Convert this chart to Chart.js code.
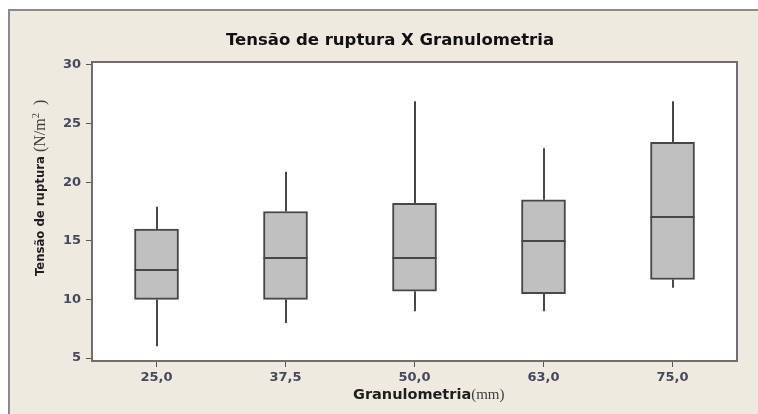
<!DOCTYPE html>
<html>
<head>
<meta charset="utf-8">
<title>Tensão de ruptura X Granulometria</title>
<script src="https://cdn.jsdelivr.net/npm/chart.js@4.4.1/dist/chart.umd.min.js"></script>
<style>
  html, body { margin: 0; padding: 0; background: #ffffff; }
  canvas { display: block; }
</style>
</head>
<body>
<canvas id="chart" width="758" height="414"></canvas>
<script>
// Granulometria classes (mm) on the x axis
const categories = ['25,0', '37,5', '50,0', '63,0', '75,0'];

// Five-number summaries of tensão de ruptura (N/m²) per class
const whiskerLow  = [6.0, 8.0, 9.0, 9.0, 11.0];
const quartile1   = [10.0, 10.0, 10.7, 10.5, 11.7];
const medians     = [12.5, 13.5, 13.5, 15.0, 17.0];
const quartile3   = [16.0, 17.5, 18.2, 18.5, 23.4];
const whiskerHigh = [17.9, 20.9, 26.9, 22.9, 26.9];

// Y axis tick values
const yTicks = [5, 10, 15, 20, 25, 30];

const LINE = '#474747';
const BOX_FILL = '#c0c0c0';
const TICK_TEXT = '#46485e';

// Panel background, plot frame and mixed-font titles
const framePlugin = {
  id: 'frame',
  beforeDraw(chart) {
    const ctx = chart.ctx;
    ctx.save();
    ctx.fillStyle = '#ffffff';
    ctx.fillRect(0, 0, chart.width, chart.height);
    ctx.fillStyle = '#eeeae0';
    ctx.fillRect(9, 10, chart.width - 9, chart.height - 10);
    ctx.strokeStyle = '#8a8a8a';
    ctx.lineWidth = 2;
    ctx.beginPath();
    ctx.moveTo(9, chart.height);
    ctx.lineTo(9, 10);
    ctx.lineTo(chart.width, 10);
    ctx.stroke();
    const a = chart.chartArea;
    ctx.fillStyle = '#ffffff';
    ctx.fillRect(a.left, a.top, a.right - a.left, a.bottom - a.top);
    ctx.restore();
  },
  afterDraw(chart) {
    const ctx = chart.ctx;
    const a = chart.chartArea;
    ctx.save();
    ctx.strokeStyle = '#6e6e6e';
    ctx.lineWidth = 2;
    ctx.strokeRect(a.left, a.top, a.right - a.left, a.bottom - a.top);

    // Main title
    ctx.fillStyle = '#111111';
    ctx.font = 'bold 16.5px "DejaVu Sans"';
    ctx.textAlign = 'center';
    ctx.textBaseline = 'middle';
    ctx.fillText('Tensão de ruptura X Granulometria', 390, 41);

    // X axis title: bold label followed by serif unit
    ctx.textAlign = 'left';
    ctx.font = 'bold 14.5px "DejaVu Sans"';
    const xt = 'Granulometria';
    let x0 = 353;
    ctx.fillStyle = '#1e1e1e';
    ctx.fillText(xt, x0, 395);
    x0 += ctx.measureText(xt).width;
    ctx.font = '15px "Liberation Serif"';
    ctx.fillStyle = '#404040';
    ctx.fillText('(mm)', x0, 395);

    // Y axis title, rotated
    ctx.translate(41, 276);
    ctx.rotate(-Math.PI / 2);
    ctx.font = 'bold 13px "DejaVu Sans Condensed"';
    ctx.fillStyle = '#1e1e1e';
    const yt = 'Tensão de ruptura';
    ctx.fillText(yt, 0, 0);
    let p = ctx.measureText(yt).width + 4;
    ctx.font = '16px "Liberation Serif"';
    ctx.fillStyle = '#404040';
    ctx.fillText('(N/m', p, 0);
    p += ctx.measureText('(N/m').width;
    ctx.font = '10.5px "Liberation Serif"';
    ctx.fillText('2', p, -5);
    p += ctx.measureText('2').width;
    ctx.font = '16px "Liberation Serif"';
    ctx.fillText('  )', p, 0);
    ctx.restore();
  }
};

// Whiskers behind the boxes, medians on top
const boxPlotPlugin = {
  id: 'boxplotParts',
  beforeDatasetsDraw(chart) {
    const ctx = chart.ctx;
    const xs = chart.scales.x, ys = chart.scales.y;
    ctx.save();
    ctx.strokeStyle = LINE;
    ctx.lineWidth = 2;
    categories.forEach((c, i) => {
      const x = Math.round(xs.getPixelForValue(i));
      ctx.beginPath();
      ctx.moveTo(x, ys.getPixelForValue(whiskerLow[i]));
      ctx.lineTo(x, ys.getPixelForValue(quartile1[i]));
      ctx.moveTo(x, ys.getPixelForValue(quartile3[i]));
      ctx.lineTo(x, ys.getPixelForValue(whiskerHigh[i]));
      ctx.stroke();
    });
    ctx.restore();
  },
  afterDatasetsDraw(chart) {
    const ctx = chart.ctx;
    const ys = chart.scales.y;
    const meta = chart.getDatasetMeta(0);
    ctx.save();
    ctx.strokeStyle = LINE;
    ctx.lineWidth = 2;
    meta.data.forEach((bar, i) => {
      const half = bar.width / 2;
      const y = Math.round(ys.getPixelForValue(medians[i]));
      ctx.beginPath();
      ctx.moveTo(bar.x - half, y);
      ctx.lineTo(bar.x + half, y);
      ctx.stroke();
    });
    ctx.restore();
  }
};

new Chart(document.getElementById('chart'), {
  type: 'bar',
  data: {
    labels: categories,
    datasets: [{
      data: quartile1.map((q, i) => [q, quartile3[i]]),
      backgroundColor: BOX_FILL,
      borderColor: LINE,
      borderWidth: 2,
      borderSkipped: false,
      barThickness: 44
    }]
  },
  options: {
    responsive: false,
    animation: false,
    layout: { padding: { left: 0, top: 62, right: 21, bottom: 0 } },
    plugins: {
      legend: { display: false },
      tooltip: { enabled: false },
      title: { display: false }
    },
    scales: {
      x: {
        type: 'category',
        offset: true,
        border: { display: false },
        grid: { display: true, drawOnChartArea: false, drawTicks: true, tickLength: 6, color: '#555555', lineWidth: 1, offset: false },
        ticks: { color: TICK_TEXT, font: { family: 'DejaVu Sans', weight: 'bold', size: 13 }, padding: 3, maxRotation: 0 },
        afterFit(s) { s.height = 53; }
      },
      y: {
        type: 'linear',
        min: 4.75,
        max: 30.25,
        border: { display: false },
        grid: { display: true, drawOnChartArea: false, drawTicks: true, tickLength: 6, color: '#555555', lineWidth: 1 },
        ticks: { color: TICK_TEXT, font: { family: 'DejaVu Sans', weight: 'bold', size: 13 }, padding: 5 },
        afterBuildTicks(s) { s.ticks = yTicks.map(v => ({ value: v })); },
        afterFit(s) { s.width = 92; }
      }
    }
  },
  plugins: [framePlugin, boxPlotPlugin]
});
</script>
</body>
</html>
